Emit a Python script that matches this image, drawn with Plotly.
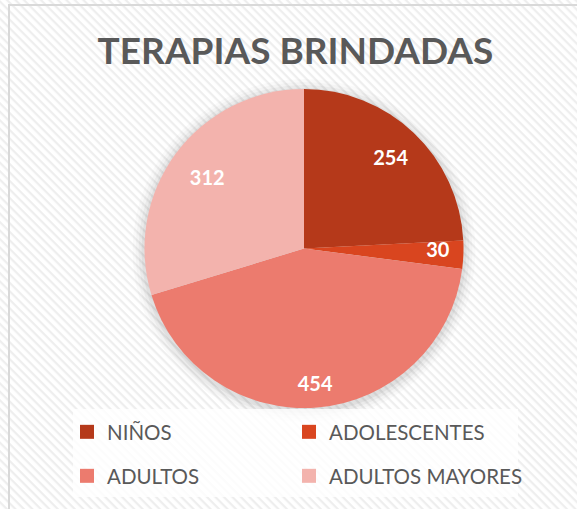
import plotly.graph_objects as go

categories = ["NIÑOS", "ADOLESCENTES", "ADULTOS", "ADULTOS MAYORES"]
values = [254, 30, 454, 312]
colors = ["#B5391A", "#D9451F", "#EC7B6E", "#F3B3AD"]
title_text = "TERAPIAS BRINDADAS"

W, H = 577, 509
cx, cy, R = 304, 248.5, 159.5
pie_domain = dict(x=[(cx - R) / W, (cx + R) / W], y=[1 - (cy + R) / H, 1 - (cy - R) / H])

pattern_svg = (
    "data:image/svg+xml;utf8,"
    "<svg xmlns='http://www.w3.org/2000/svg' width='577' height='509'>"
    "<defs><pattern id='p' width='6' height='6' patternUnits='userSpaceOnUse' patternTransform='rotate(45)'>"
    "<rect width='6' height='6' fill='white'/><rect width='6' height='2.2' fill='%23EEEEEE'/></pattern></defs>"
    "<rect width='577' height='509' fill='url(%23p)'/></svg>"
)

NB = "\u00a0"
# per-label ring hole (controls how far out the label sits) and extra padding
label_holes = [0.58, 0.6, 0.69, 0.51]
label_pad = ["", NB * 5, "", ""]

fig = go.Figure()
# the pie itself
fig.add_trace(go.Pie(
    labels=categories, values=values, sort=False, direction="clockwise", rotation=0,
    marker=dict(colors=colors, line=dict(width=0)),
    textinfo="none", domain=pie_domain, showlegend=False,
    hoverinfo="label+value+percent",
))
# transparent ring overlays used only to place each value label (like Excel best fit)
for i in range(len(values)):
    fig.add_trace(go.Pie(
        labels=categories, values=values, sort=False, direction="clockwise", rotation=0,
        hole=label_holes[i],
        marker=dict(colors=["rgba(0,0,0,0)"] * len(values), line=dict(width=0)),
        texttemplate=["%{value}" + label_pad[i] if j == i else "" for j in range(len(values))],
        textposition="inside", insidetextorientation="horizontal",
        textfont=dict(family="Lato", size=20, color="white", weight="bold"),
        domain=pie_domain, showlegend=False, hoverinfo="skip",
    ))
# legend entries (two rows, two columns), one legend each
legend_names = ["legend", "legend2", "legend3", "legend4"]
for i, (cat, col) in enumerate(zip(categories, colors)):
    fig.add_trace(go.Scatter(
        x=[None], y=[None], mode="markers", name=cat,
        marker=dict(symbol="square", size=14, color=col),
        legend=legend_names[i], hoverinfo="skip",
    ))

shapes = []
# soft shadow around pie
for dr, op in [(12, 0.02), (9, 0.025), (6, 0.035), (3, 0.045)]:
    shapes.append(dict(type="circle", xref="paper", yref="paper", layer="below",
                       x0=(cx - R - dr) / W, x1=(cx + R + dr) / W,
                       y0=1 - (cy + 2 + R + dr) / H, y1=1 - (cy + 2 - R - dr) / H,
                       fillcolor=f"rgba(0,0,0,{op})", line=dict(width=0)))
# legend box
shapes.append(dict(type="rect", xref="paper", yref="paper", layer="below",
                   x0=73 / W, x1=518 / W, y0=1 - 497 / H, y1=1 - 409 / H,
                   fillcolor="rgba(255,255,255,0.8)", line=dict(width=0)))
# chart border (top & left visible)
shapes.append(dict(type="rect", xref="paper", yref="paper", layer="above",
                   x0=9 / W, x1=1.05, y0=-0.05, y1=1 - 5 / H,
                   line=dict(color="#D9D9D9", width=2), fillcolor="rgba(0,0,0,0)"))

legend_common = dict(orientation="h", xanchor="left", yanchor="middle",
                     bgcolor="rgba(0,0,0,0)", borderwidth=0,
                     font=dict(family="Lato", size=20.5, color="#595959"))
legend_pos = [(67, 432), (289, 432), (67, 476), (289, 476)]
legend_layouts = {name: dict(x=px / W, y=1 - py / H, **legend_common)
                  for name, (px, py) in zip(legend_names, legend_pos)}

fig.update_layout(
    width=W, height=H,
    margin=dict(l=0, r=0, t=0, b=0),
    paper_bgcolor="white", plot_bgcolor="rgba(0,0,0,0)",
    xaxis=dict(visible=False), yaxis=dict(visible=False),
    uniformtext=dict(minsize=20, mode="show"),
    images=[dict(source=pattern_svg, xref="paper", yref="paper", x=0, y=1,
                 sizex=1, sizey=1, sizing="stretch", layer="below")],
    shapes=shapes,
    title=dict(text=title_text, x=295.5 / W, xanchor="center", y=1 - 51 / H, yanchor="middle",
               font=dict(family="Lato", size=37, color="#595959", weight="bold")),
    showlegend=True,
    **legend_layouts,
)

fig.write_html("out.html", config={"displayModeBar": False},
               post_script="document.body.style.margin='0';")
